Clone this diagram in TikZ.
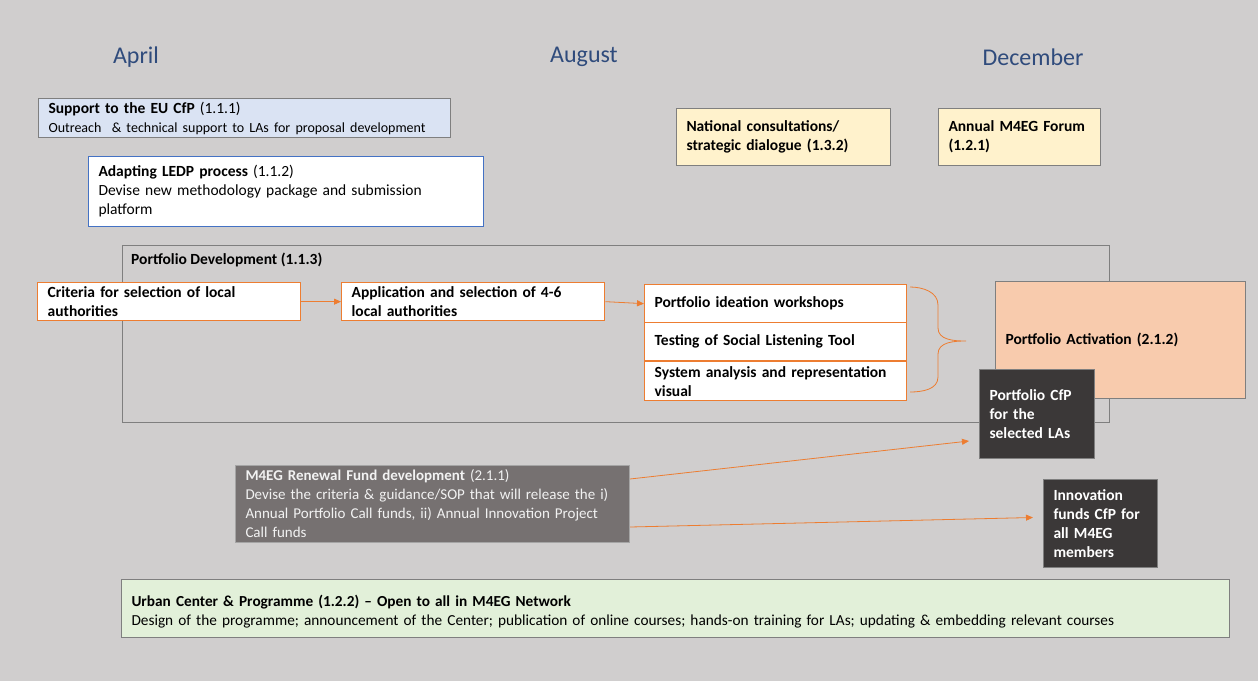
\documentclass[tikz,border=0pt]{standalone}
\usepackage{fontspec}
\setmainfont{Carlito}
\usetikzlibrary{arrows.meta,calc}
\definecolor{bg}{HTML}{D0CECE}
\definecolor{edge}{HTML}{7F7F7F}
\definecolor{orng}{HTML}{ED7D31}
\definecolor{bluee}{HTML}{4472C4}
\definecolor{lblue}{HTML}{DAE3F3}
\definecolor{lyel}{HTML}{FFF2CC}
\definecolor{peach}{HTML}{F8CBAD}
\definecolor{dark}{HTML}{3B3838}
\definecolor{mgrey}{HTML}{767171}
\definecolor{lgreen}{HTML}{E2F0D9}
\definecolor{month}{HTML}{2F4B7C}
\newcommand\myfs{\fontsize{15.5}{19}\selectfont}
\newcommand\smfs{\fontsize{14}{19}\selectfont}
\newcommand\renfs{\fontsize{15}{19}\selectfont}
\newcommand\urbfs{\fontsize{15.3}{19}\selectfont}
\tikzset{
  box/.style={draw=edge, line width=1pt, anchor=north west, inner xsep=10pt, inner ysep=0pt, align=left, font=\myfs},
  obox/.style={box, draw=orng, line width=1.3pt, fill=white, font=\myfs\bfseries},
  monthlbl/.style={text=month, font=\fontsize{24}{28}\selectfont},
  arr/.style={draw=orng, line width=0.8pt, -{Triangle[length=7pt,width=6pt]}},
}
\begin{document}
\begin{tikzpicture}[x=1pt,y=-1pt]
\useasboundingbox[fill=bg] (0,0) rectangle (1258,681);

\node[monthlbl] (apr) at (136,57) {April};
\node[monthlbl] (aug) at (584,57) {August};
\node[monthlbl] (dec) at (1033,57) {December};

\node[box, fill=lblue, minimum width=412pt, minimum height=39pt, text width=392pt] (sup) at (38,98)
  {\textbf{Support to the EU CfP} (1.1.1)\\\smfs Outreach \ \& technical support to LAs for proposal development};
\node[box, draw=bluee, fill=white, minimum width=395pt, minimum height=70pt, text width=375pt] (adapt) at (88,156)
  {\textbf{Adapting LEDP process} (1.1.2)\\Devise new methodology package and submission\\platform};
\node[box, fill=lyel, minimum width=214pt, minimum height=57pt, text width=194pt, font=\myfs\bfseries] (nat) at (676,108)
  {National consultations/\\strategic dialogue (1.3.2)};
\node[box, fill=lyel, minimum width=162pt, minimum height=57pt, text width=142pt, font=\myfs\bfseries] (forum) at (938,108)
  {Annual M4EG Forum\\(1.2.1)};

\node[box, minimum width=987pt, minimum height=177pt] (pdev) at (122,245) {};
\node[anchor=west, font=\myfs\bfseries, inner sep=0pt] (pdevl) at (131,260) {Portfolio Development (1.1.3)};

\node[obox, minimum width=263pt, minimum height=38pt, text width=243pt] (crit) at (37,282)
  {Criteria for selection of local\\authorities};
\node[obox, minimum width=263pt, minimum height=38pt, text width=243pt] (app) at (341,282)
  {Application and selection of 4-6\\local authorities};
\node[obox, minimum width=262pt, minimum height=38pt, text width=242pt] (ide) at (644,284)
  {Portfolio ideation workshops};
\node[obox, minimum width=262pt, minimum height=38pt, text width=242pt] (test) at (644,322)
  {Testing of Social Listening Tool};
\node[obox, minimum width=262pt, minimum height=39pt, text width=242pt] (sys) at (644,361)
  {System analysis and representation\\visual};

\draw[orng, line width=0.8pt] (910,287) to[out=0,in=90] (938,305) -- (938,328) to[out=-90,in=180] (966,341)
  to[out=180,in=90] (938,354) -- (938,377) to[out=-90,in=0] (910,392);

\node[box, fill=peach, minimum width=250pt, minimum height=117pt, text width=230pt, font=\myfs\bfseries] (act) at (995,281)
  {Portfolio Activation (2.1.2)};
\node[box, fill=dark, text=white, minimum width=115pt, minimum height=89pt, text width=95pt, font=\myfs\bfseries] (cfp) at (979,369)
  {Portfolio CfP\\for the\\selected LAs};

\node[box, draw=edge!70, fill=mgrey, text=white!95!black, minimum width=394pt, minimum height=77pt, text width=374pt, font=\renfs] (ren) at (235,465)
  {\textbf{M4EG Renewal Fund development} (2.1.1)\\Devise the criteria \& guidance/SOP that will release the i)\\Annual Portfolio Call funds, ii) Annual Innovation Project\\Call funds};
\node[box, fill=dark, text=white, minimum width=114pt, minimum height=88pt, text width=94pt, font=\myfs\bfseries] (inn) at (1043,479)
  {Innovation\\funds CfP for\\all M4EG\\members};

\node[box, fill=lgreen, minimum width=1108pt, minimum height=58pt, text width=1088pt, font=\urbfs] (urb) at (121,579)
  {\rule{0pt}{17pt}\textbf{Urban Center \& Programme (1.2.2) -- Open to all in M4EG Network}\\Design of the programme; announcement of the Center; publication of online courses; hands-on training for LAs; updating \& embedding relevant courses};

\draw[arr] (crit.east) -- (app.west);
\draw[arr] (app.east) -- (ide.west);
\draw[arr] ([yshift=-14pt]ren.north east) -- ([xshift=-10pt,yshift=-27pt]cfp.west);
\draw[arr] ([yshift=-23pt]ren.east) -- ([xshift=-10pt,yshift=6pt]inn.west);
\end{tikzpicture}
\end{document}
